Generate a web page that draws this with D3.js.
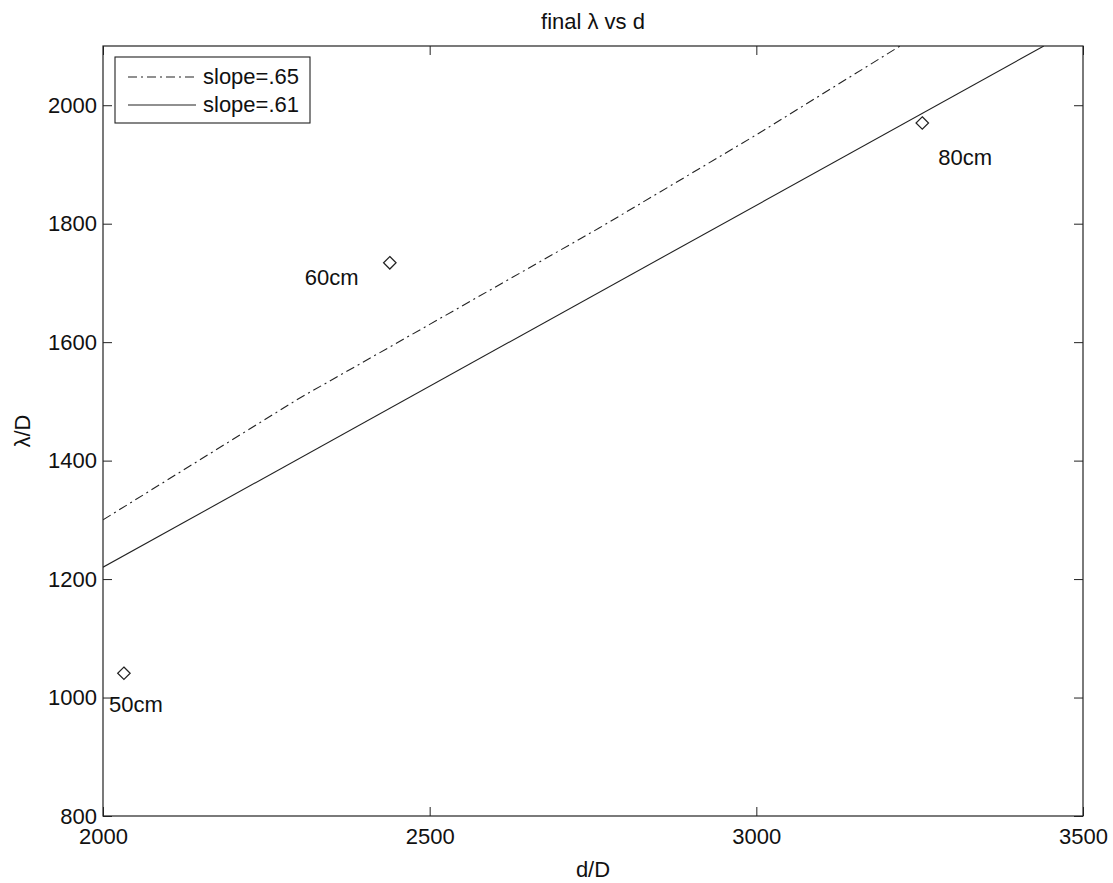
<!DOCTYPE html>
<html>
<head>
<meta charset="utf-8">
<script src="https://cdn.jsdelivr.net/npm/d3@7"></script>
<style>
  body { margin: 0; background: #fff; }
  svg { display: block; }
  text { font-family: "Liberation Sans", Arial, sans-serif; fill: #111; }
</style>
</head>
<body>
<div id="chart"></div>
<script>
// data
const xTicks = [2000, 2500, 3000, 3500];
const yTicks = [800, 1000, 1200, 1400, 1600, 1800, 2000];

const pointX = [2032, 2439, 3254];
const pointY = [1041, 1734, 1970];
const pointLabels = ["50cm", "60cm", "80cm"];

const fit65X = [2000, 2300, 2500, 2760, 3000, 3220];
const fit65Y = [1300, 1505, 1630, 1793, 1950, 2100];

const fit61X = [2000, 3440];
const fit61Y = [1220, 2100];

const legendNames = ["slope=.65", "slope=.61"];

const width = 1113, height = 883;
const margin = {top: 46, right: 30, bottom: 67, left: 103};

const svg = d3.select("#chart").append("svg")
    .attr("width", width)
    .attr("height", height);

const x = d3.scaleLinear().domain([2000, 3500]).range([margin.left, width - margin.right]);
const y = d3.scaleLinear().domain([800, 2100]).range([height - margin.bottom, margin.top]);

const ink = "#222";
const fs = "22px";

svg.append("clipPath").attr("id", "clip")
    .append("rect")
    .attr("x", x(2000)).attr("y", y(2100))
    .attr("width", x(3500) - x(2000)).attr("height", y(800) - y(2100));

// axes, ticks pointing inward
function styleAxis(g) {
    g.select(".domain").remove();
    g.selectAll(".tick line").attr("stroke", ink);
    g.selectAll(".tick text").style("font-size", fs).attr("fill", "#111");
}

svg.append("g")
    .attr("transform", `translate(0,${y(800)})`)
    .call(d3.axisBottom(x).tickValues(xTicks).tickSizeInner(-9).tickSizeOuter(0).tickPadding(12).tickFormat(d3.format("d")))
    .call(styleAxis);

svg.append("g")
    .attr("transform", `translate(0,${y(2100)})`)
    .call(d3.axisTop(x).tickValues(xTicks).tickSizeInner(-9).tickSizeOuter(0).tickFormat(""))
    .call(styleAxis);

svg.append("g")
    .attr("transform", `translate(${x(2000)},0)`)
    .call(d3.axisLeft(y).tickValues(yTicks).tickSizeInner(-9).tickSizeOuter(0).tickPadding(6).tickFormat(d3.format("d")))
    .call(styleAxis);

svg.append("g")
    .attr("transform", `translate(${x(3500)},0)`)
    .call(d3.axisRight(y).tickValues(yTicks).tickSizeInner(-9).tickSizeOuter(0).tickFormat(""))
    .call(styleAxis);

// plot box
svg.append("rect")
    .attr("x", x(2000)).attr("y", y(2100))
    .attr("width", x(3500) - x(2000)).attr("height", y(800) - y(2100))
    .attr("fill", "none")
    .attr("stroke", ink)
    .attr("stroke-width", 1.2);

// fitted lines
const line = d3.line().x(d => x(d[0])).y(d => y(d[1]));

svg.append("path")
    .datum(d3.zip(fit65X, fit65Y))
    .attr("clip-path", "url(#clip)")
    .attr("fill", "none")
    .attr("stroke", ink)
    .attr("stroke-width", 1.1)
    .attr("stroke-dasharray", "9,4,2,4")
    .attr("d", line);

svg.append("path")
    .datum(d3.zip(fit61X, fit61Y))
    .attr("clip-path", "url(#clip)")
    .attr("fill", "none")
    .attr("stroke", ink)
    .attr("stroke-width", 1.1)
    .attr("d", line);

// diamonds
const diamond = d3.symbol().type(d3.symbolDiamond2).size(100);
svg.append("g").selectAll("path")
    .data(d3.range(pointX.length))
    .enter().append("path")
    .attr("transform", i => `translate(${x(pointX[i])},${y(pointY[i])})`)
    .attr("d", diamond)
    .attr("fill", "none")
    .attr("stroke", ink)
    .attr("stroke-width", 1.2);

// point labels (offsets relative to each point)
const labelDx = [-15, -85, 16];
const labelDy = [39, 22, 42];
svg.append("g").selectAll("text")
    .data(d3.range(pointX.length))
    .enter().append("text")
    .attr("x", i => x(pointX[i]) + labelDx[i])
    .attr("y", i => y(pointY[i]) + labelDy[i])
    .style("font-size", fs)
    .text(i => pointLabels[i]);

// title and axis labels
svg.append("text")
    .attr("x", (x(2000) + x(3500)) / 2)
    .attr("y", 29)
    .attr("text-anchor", "middle")
    .style("font-size", fs)
    .text("final λ vs d");

svg.append("text")
    .attr("x", (x(2000) + x(3500)) / 2)
    .attr("y", 877)
    .attr("text-anchor", "middle")
    .style("font-size", fs)
    .text("d/D");

svg.append("text")
    .attr("transform", `translate(30,${(y(800) + y(2100)) / 2}) rotate(-90)`)
    .attr("text-anchor", "middle")
    .style("font-size", fs)
    .text("λ/D");

// legend
const legend = svg.append("g").attr("transform", "translate(115,57)");
legend.append("rect")
    .attr("width", 195).attr("height", 66)
    .attr("fill", "#fff")
    .attr("stroke", ink)
    .attr("stroke-width", 1.1);

const dashes = ["9,4,2,4", null];
legendNames.forEach((name, i) => {
    const ly = 20 + i * 28;
    legend.append("line")
        .attr("x1", 13).attr("x2", 81)
        .attr("y1", ly).attr("y2", ly)
        .attr("stroke", ink)
        .attr("stroke-width", 1.1)
        .attr("stroke-dasharray", dashes[i]);
    legend.append("text")
        .attr("x", 88)
        .attr("y", ly + 7)
        .style("font-size", fs)
        .text(name);
});
</script>
</body>
</html>
